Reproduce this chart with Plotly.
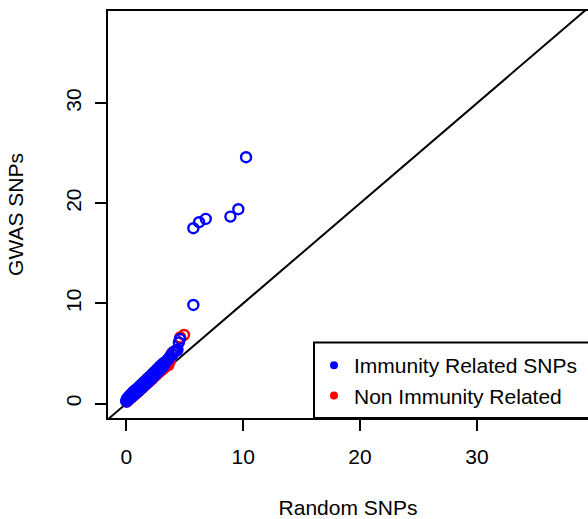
import plotly.graph_objects as go

# ---- data ----
immune_random = [0.00, 0.02, 0.06, 0.08, 0.12, 0.15, 0.20, 0.22, 0.28, 0.30,
                 0.36, 0.38, 0.44, 0.46, 0.52, 0.55, 0.60, 0.64, 0.70, 0.73,
                 0.80, 0.82, 0.90, 0.92, 1.00, 1.02, 1.10, 1.12, 1.20, 1.22,
                 1.30, 1.33, 1.42, 1.44, 1.52, 1.55, 1.64, 1.66, 1.76, 1.78,
                 1.88, 1.90, 2.00, 2.02, 2.12, 2.14, 2.24, 2.26, 2.36, 2.38,
                 2.48, 2.50, 2.60, 2.62, 2.72, 2.74, 2.84, 2.86, 2.96, 2.98,
                 3.08, 3.10, 3.20, 3.22, 3.35, 3.50, 3.62, 3.78, 3.95, 4.05,
                 4.20, 4.38, 4.50, 4.60,
                 5.74, 5.74, 6.23, 6.80, 8.91, 9.59, 10.25]
immune_gwas = [0.30, 0.20, 0.45, 0.30, 0.55, 0.38, 0.65, 0.45, 0.75, 0.52,
               0.85, 0.60, 0.95, 0.68, 1.05, 0.76, 1.15, 0.85, 1.25, 0.95,
               1.35, 1.04, 1.45, 1.14, 1.55, 1.24, 1.66, 1.35, 1.78, 1.46,
               1.90, 1.57, 2.02, 1.69, 2.14, 1.81, 2.27, 1.94, 2.40, 2.07,
               2.53, 2.20, 2.66, 2.34, 2.80, 2.48, 2.94, 2.62, 3.08, 2.77,
               3.22, 2.92, 3.36, 3.07, 3.50, 3.22, 3.64, 3.37, 3.78, 3.52,
               3.92, 3.66, 4.05, 3.80, 4.15, 4.30, 4.50, 4.75, 4.90, 5.15,
               5.25, 5.35, 6.10, 6.45,
               9.85, 17.51, 18.11, 18.44, 18.67, 19.41, 24.60]

other_random = [0.05, 0.20, 0.40, 0.60, 0.80, 1.00, 1.20, 1.40, 1.60, 1.80,
                2.00, 2.20, 2.40, 2.60, 2.80, 3.00, 3.20, 3.40, 3.61, 3.75,
                3.90, 4.30, 4.62, 4.94]
other_gwas = [0.20, 0.38, 0.58, 0.78, 0.98, 1.18, 1.40, 1.60, 1.82, 2.04,
              2.25, 2.45, 2.68, 2.90, 3.12, 3.32, 3.52, 3.72, 3.85, 4.30,
              5.02, 5.30, 6.60, 6.85]

x_ticks = [0, 10, 20, 30]
y_ticks = [0, 10, 20, 30]
x_range = [-1.56, 39.5]
y_range = [-1.44, 39.2]

series_names = ["Immunity Related SNPs", "Non Immunity Related"]
series_colors = ["#0000FF", "#FF0000"]

FONT = "Liberation Sans, Arial, Helvetica, sans-serif"

fig = go.Figure()

# identity reference line (abline(0,1)) spanning the axis range
fig.add_trace(go.Scatter(x=x_range, y=x_range, mode="lines",
                         line=dict(color="black", width=2),
                         showlegend=False, hoverinfo="skip"))

fig.add_trace(go.Scatter(x=other_random, y=other_gwas, mode="markers",
                         marker=dict(symbol="circle-open", size=10, color=series_colors[1],
                                     line=dict(width=2.4, color=series_colors[1])),
                         showlegend=False, name=series_names[1]))
fig.add_trace(go.Scatter(x=immune_random, y=immune_gwas, mode="markers",
                         marker=dict(symbol="circle-open", size=10, color=series_colors[0],
                                     line=dict(width=2.4, color=series_colors[0])),
                         showlegend=False, name=series_names[0]))

# legend entries (filled dots as in the original legend)
for nm, col in zip(series_names, series_colors):
    fig.add_trace(go.Scatter(x=[None], y=[None], mode="markers", name=nm,
                             marker=dict(symbol="circle", size=8, color=col)))

W, H = 588, 519
ml, mr, mt, mb = 108, 0, 11, 101
pw, ph = W - ml - mr, H - mt - mb

def px_x(p):
    return (p - ml) / pw

def px_y(p):
    return (H - mb - p) / ph

# legend box (extends past right edge, like the cropped original)
fig.add_shape(type="rect", xref="paper", yref="paper",
              x0=px_x(314), x1=1.2, y0=0, y1=px_y(342.5),
              line=dict(color="black", width=2), fillcolor="white", layer="above")

fig.update_layout(
    width=W, height=H,
    margin=dict(l=ml, r=mr, t=mt, b=mb, pad=0),
    paper_bgcolor="white", plot_bgcolor="white",
    font=dict(family=FONT, size=21, color="black"),
    showlegend=True,
    legend=dict(x=px_x(314), xanchor="left", y=px_y(345), yanchor="top",
                bgcolor="rgba(0,0,0,0)", borderwidth=0,
                font=dict(family=FONT, size=21, color="black"),
                tracegroupgap=0),
    xaxis=dict(range=x_range, tickvals=x_ticks, ticktext=[str(v) for v in x_ticks],
               showgrid=False, zeroline=False, showline=True, mirror=True,
               linecolor="black", linewidth=2, ticks="outside", ticklen=11,
               tickwidth=2, tickcolor="black", ticklabelstandoff=8,
               title=dict(text="Random SNPs", standoff=33,
                          font=dict(family=FONT, size=21))),
    yaxis=dict(range=y_range, tickvals=y_ticks, ticktext=[str(v) for v in y_ticks],
               showgrid=False, zeroline=False, showline=True, mirror=False,
               linecolor="black", linewidth=2, ticks="outside", ticklen=11,
               tickwidth=2, tickcolor="black", tickangle=-90, ticklabelstandoff=6,
               title=dict(text="GWAS SNPs", standoff=32,
                          font=dict(family=FONT, size=21))),
)

fig.write_html("out.html")
